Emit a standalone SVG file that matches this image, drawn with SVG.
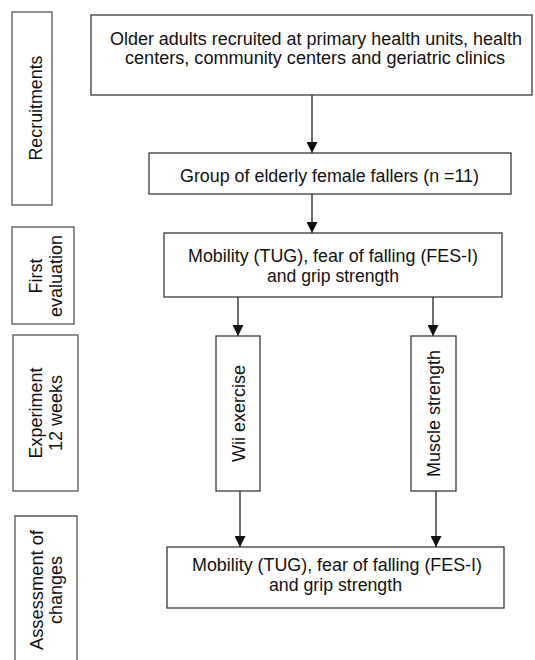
<svg xmlns="http://www.w3.org/2000/svg" width="535" height="660" viewBox="0 0 535 660">
<defs>
<style>
.box{fill:#fff;stroke:#3a3a3a;stroke-width:1.3}
.side{fill:#fff;stroke:#555;stroke-width:1.3}
.t{font-family:"Liberation Sans",Arial,sans-serif;font-size:17.5px;fill:#111;text-anchor:middle}
.edge{stroke:#222;stroke-width:1.3;fill:none}
</style>
<marker id="ah" viewBox="0 0 11 11" refX="11" refY="5.5" markerWidth="11" markerHeight="11" markerUnits="userSpaceOnUse" orient="auto">
<path d="M0,0 L11,5.5 L0,11 z" fill="#111"/>
</marker>
</defs>
<rect width="535" height="660" fill="#fff"/>

<g id="stage-recruitments">
<rect class="side" x="12" y="12" width="40" height="193"/>
<text class="t" transform="translate(42,108) rotate(-90)" textLength="105" lengthAdjust="spacingAndGlyphs">Recruitments</text>
</g>
<g id="stage-first-evaluation">
<rect class="side" x="12" y="227" width="62" height="97"/>
<text class="t" transform="translate(42,276) rotate(-90)" textLength="35" lengthAdjust="spacingAndGlyphs">First</text>
<text class="t" transform="translate(62,276) rotate(-90)" textLength="82" lengthAdjust="spacingAndGlyphs">evaluation</text>
</g>
<g id="stage-experiment">
<rect class="side" x="13" y="335" width="65" height="156"/>
<text class="t" transform="translate(42,413) rotate(-90)" textLength="91" lengthAdjust="spacingAndGlyphs">Experiment</text>
<text class="t" transform="translate(62,413) rotate(-90)" textLength="76" lengthAdjust="spacingAndGlyphs">12 weeks</text>
</g>
<g id="stage-assessment">
<path class="side" d="M15,661 V516 H77 V661"/>
<text class="t" transform="translate(43,590) rotate(-90)" textLength="120" lengthAdjust="spacingAndGlyphs">Assessment of</text>
<text class="t" transform="translate(62,590) rotate(-90)" textLength="68" lengthAdjust="spacingAndGlyphs">changes</text>
</g>

<g id="connectors">
<line class="edge" x1="312" y1="95" x2="312" y2="153" marker-end="url(#ah)"/>
<line class="edge" x1="312" y1="194" x2="312" y2="233" marker-end="url(#ah)"/>
<line class="edge" x1="238" y1="297" x2="238" y2="336" marker-end="url(#ah)"/>
<line class="edge" x1="433" y1="297" x2="433" y2="336" marker-end="url(#ah)"/>
<line class="edge" x1="240" y1="491" x2="240" y2="547" marker-end="url(#ah)"/>
<line class="edge" x1="436" y1="491" x2="436" y2="547" marker-end="url(#ah)"/>
</g>

<g id="recruited">
<rect class="box" x="91" y="15" width="441" height="80"/>
<text class="t" x="316" y="45" textLength="412" lengthAdjust="spacingAndGlyphs">Older adults recruited at primary health units, health</text>
<text class="t" x="315" y="64" textLength="380" lengthAdjust="spacingAndGlyphs">centers, community centers and geriatric clinics</text>
</g>
<g id="group">
<rect class="box" x="149" y="153" width="362" height="41"/>
<text class="t" x="329.5" y="182" textLength="299" lengthAdjust="spacingAndGlyphs">Group of elderly female fallers (n =11)</text>
</g>
<g id="first-evaluation">
<rect class="box" x="164" y="233" width="338" height="64"/>
<text class="t" x="333" y="262" textLength="290" lengthAdjust="spacingAndGlyphs">Mobility (TUG), fear of falling (FES-I)</text>
<text class="t" x="333" y="282" textLength="132" lengthAdjust="spacingAndGlyphs">and grip strength</text>
</g>
<g id="wii">
<rect class="box" x="216" y="336" width="44" height="155"/>
<text class="t" transform="translate(245,413.5) rotate(-90)" textLength="97" lengthAdjust="spacingAndGlyphs">Wii exercise</text>
</g>
<g id="muscle">
<rect class="box" x="411" y="336" width="45" height="155"/>
<text class="t" transform="translate(440,413.5) rotate(-90)" textLength="127" lengthAdjust="spacingAndGlyphs">Muscle strength</text>
</g>
<g id="assessment">
<rect class="box" x="167" y="547" width="337" height="61"/>
<text class="t" x="337" y="571" textLength="290" lengthAdjust="spacingAndGlyphs">Mobility (TUG), fear of falling (FES-I)</text>
<text class="t" x="335.5" y="591" textLength="133" lengthAdjust="spacingAndGlyphs">and grip strength</text>
</g>
</svg>
